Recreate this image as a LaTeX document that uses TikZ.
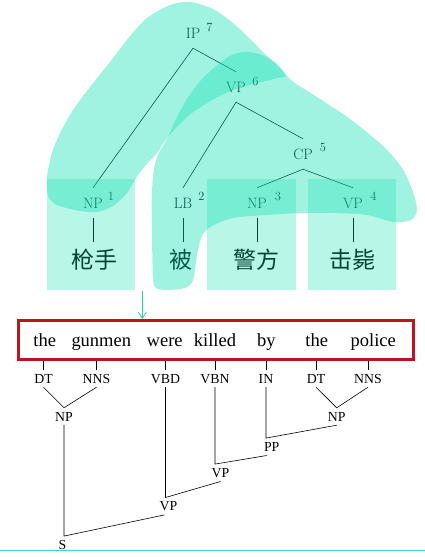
\documentclass[tikz,border=0pt]{standalone}
\usepackage{fontspec}
\newfontfamily\tms{Liberation Serif}
\newfontfamily\cjk{Noto Sans CJK SC}
\usetikzlibrary{arrows.meta}
\definecolor{mint}{RGB}{20,225,180}
\definecolor{boxred}{RGB}{190,20,30}
\definecolor{arrowmint}{RGB}{30,215,165}
\definecolor{rulecyan}{RGB}{60,210,210}

\begin{document}
\begin{tikzpicture}[x=1pt, y=-1pt,
  cat/.style={font=\fontsize{15}{18}\selectfont, text height=10pt, text depth=0pt, inner xsep=1pt, inner ysep=10pt},
  idx/.style={font=\fontsize{12.5}{14}\selectfont, inner sep=0pt},
  han/.style={font=\cjk\fontsize{23}{26}\selectfont, text height=20pt, text depth=3pt, inner xsep=0pt, inner ysep=6pt},
  word/.style={font=\tms\fontsize{18.5}{22}\selectfont, anchor=base, inner sep=0pt},
  tag/.style={font=\tms\fontsize{13.8}{16}\selectfont, anchor=base, text height=9pt, text depth=0pt, inner xsep=1pt, inner ysep=4pt},
  sentbox/.style={draw=boxred, line width=3pt, minimum width=394.3pt, minimum height=38.5pt, inner sep=0pt},
  edge/.style={line width=0.6pt},
  blob/.style={fill=mint, fill opacity=0.4},
  span/.style={fill=mint, fill opacity=0.3}]

\useasboundingbox (0,0) rectangle (425,557);

% chinese tree
\node[cat] (ip) at (193,33) {IP};
\node[cat] (vp6) at (236,87) {VP};
\node[cat] (cp) at (303,154) {CP};
\node[cat] (np1) at (93,203) {NP};
\node[cat] (lb) at (183,203) {LB};
\node[cat] (np3) at (257,203) {NP};
\node[cat] (vp4) at (353,203) {VP};
\node[idx] (ip-i) at (209.5,27) {7};
\node[idx] (vp6-i) at (255.5,81.5) {6};
\node[idx] (cp-i) at (323,147) {5};
\node[idx] (np1-i) at (111,196) {1};
\node[idx] (lb-i) at (201.5,196) {2};
\node[idx] (np3-i) at (278,196) {3};
\node[idx] (vp4-i) at (373.5,196) {4};
\node[han] (qiangshou) at (94,260) {枪手};
\node[han] (bei) at (181,260) {被};
\node[han] (jingfang) at (256,260) {警方};
\node[han] (jibi) at (352,260) {击毙};

\draw[edge] (ip.south) -- (np1.north);
\draw[edge] (ip.south) -- (vp6.north);
\draw[edge] (vp6.south) -- (lb.north);
\draw[edge] (vp6.south) -- (cp.north);
\draw[edge] (cp.south) -- (np3.north);
\draw[edge] (cp.south) -- (vp4.north);
\draw[edge] (np1.south) -- (np1.south |- qiangshou.north);
\draw[edge] (lb.south) -- (lb.south |- bei.north);
\draw[edge] (np3.south) -- (np3.south |- jingfang.north);
\draw[edge] (vp4.south) -- (vp4.south |- jibi.north);

\fill[span] (47,179) rectangle (135,290);
\fill[span] (207,179) rectangle (295.5,290);
\fill[span] (308,179) rectangle (396,290);

\fill[blob] plot[smooth cycle, tension=0.5] coordinates {
  (286,76) (278,66) (266,55) (248,37) (233,23) (213,9) (190,2) (170,5)
  (147,18) (130,36) (110,62) (90,87) (73,110) (60,133) (52,153) (47,177)
  (48,196) (57,205) (80,211) (97,212) (113,206) (127,193) (136,178) (145,166)
  (157,153) (168,137) (187,117) (207,103) (230,91) (253,84) (278,78)};
\fill[blob] plot[smooth cycle, tension=0.5] coordinates {
  (168,137) (175,121) (187,99) (203,78) (228,57) (245,52) (262,55) (277,64)
  (286,75) (295,83) (317,97) (350,119) (383,146) (402,168) (413,192) (417,210)
  (411,220) (393,222) (367,215) (333,213) (300,213) (267,215) (233,218) (212,226)
  (202,236) (197,255) (193,280) (185,288) (167,290) (156,288) (153,278) (152,233)
  (152,190) (156,160)};

% english sentence
\node[sentbox] (sent) at (215.85,339.75) {};
\node[word] (w-the1) at (44.7,346) {the};
\node[word] (w-gunmen) at (101.3,346) {gunmen};
\node[word] (w-were) at (164.7,346) {were};
\node[word] (w-killed) at (215,346) {killed};
\node[word] (w-by) at (266.3,346) {by};
\node[word] (w-the2) at (316.7,346) {the};
\node[word] (w-police) at (373.3,346) {police};

\coordinate (drop) at (142.3,291);
\draw[arrowmint, line width=0.8pt, -{Straight Barb[length=6pt,width=8pt]}] (drop) -- (drop |- sent.north);

\node[tag] (t-dt1) at (43.5,383) {DT};
\node[tag] (t-nns1) at (96.5,383) {NNS};
\node[tag] (t-vbd) at (165.5,383) {VBD};
\node[tag] (t-vbn) at (215,383) {VBN};
\node[tag] (t-in) at (266,383) {IN};
\node[tag] (t-dt2) at (316,383) {DT};
\node[tag] (t-nns2) at (368,383) {NNS};

\foreach \t in {t-dt1,t-nns1,t-vbd,t-vbn,t-in,t-dt2,t-nns2}
  \draw[edge] (\t.north) -- (\t.north |- sent.south);

\draw[rulecyan, line width=1pt] (0,550) -- (425,550);

\node[tag] (np-l) at (64,421) {NP};
\node[tag] (np-r) at (336.7,421) {NP};
\node[tag] (pp) at (271.7,451.3) {PP};
\node[tag] (vp1) at (220.5,477.3) {VP};
\node[tag] (vp2) at (168.5,510.7) {VP};
\node[tag] (s) at (62.5,549.3) {S};

\draw[edge] (t-dt1.south) -- (np-l.north) -- (t-nns1.south);
\draw[edge] (t-dt2.south) -- (np-r.north) -- (t-nns2.south);
\draw[edge] (t-in.south) -- (t-in.south |- pp.north) -- (np-r.south);
\draw[edge] (t-vbn.south) -- (t-vbn.south |- vp1.north) -- ([xshift=-5pt]pp.south);
\draw[edge] (t-vbd.south) -- (t-vbd.south |- vp2.north) -- (vp1.south);
\draw[edge] (np-l.south) -- (np-l.south |- s.north) -- ([xshift=-4pt]vp2.south);

\end{tikzpicture}
\end{document}
